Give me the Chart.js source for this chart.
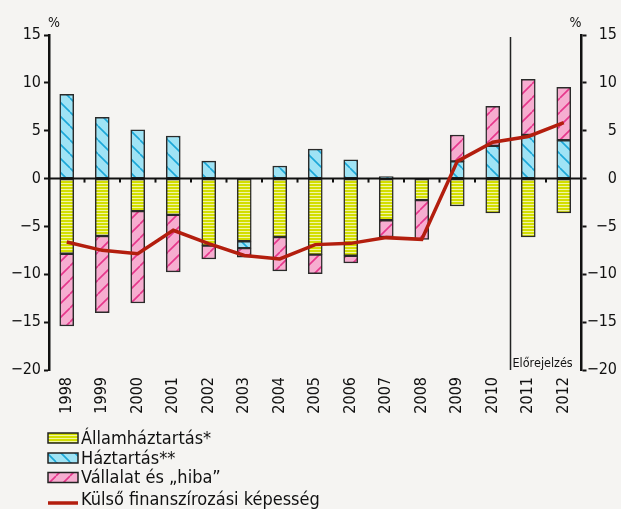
<!DOCTYPE html>
<html>
<head>
<meta charset="utf-8">
<script src="https://cdn.jsdelivr.net/npm/chart.js@4"></script>
<style>
  html, body { margin: 0; padding: 0; background: #f5f4f2; }
  #wrap { width: 621px; height: 509px; }
</style>
</head>
<body>
<div id="wrap"><canvas id="myChart" width="621" height="509"></canvas></div>
<script>
// Évek és a GDP-arányos szektorális egyenlegek (%)
const years = ['1998', '1999', '2000', '2001', '2002', '2003', '2004', '2005', '2006', '2007', '2008', '2009', '2010', '2011', '2012'];
const allamhaztartas = [-7.85, -6.0, -3.4, -3.8, -7.0, -6.55, -6.1, -7.95, -8.06, -4.35, -2.25, -2.87, -3.6, -6.1, -3.6];
const haztartas = [8.8, 6.4, 5.1, 4.45, 1.83, -0.71, 1.31, 3.07, 1.97, 0.2, null, 1.8, 3.41, 4.55, 4.0];
const vallalat = [-7.55, -8.0, -9.6, -5.95, -1.4, -0.95, -3.55, -1.98, -0.74, -1.75, -4.1, 2.75, 4.14, 5.83, 5.52];
const kulsoFinanszirozas = [-6.63, -7.5, -7.85, -5.4, -6.8, -8.03, -8.4, -6.9, -6.77, -6.17, -6.35, 1.8, 3.8, 4.4, 5.85];
const yMin = -20;
const yMax = 15;
const yStep = 5;
const elorejelzesIdx = 13; // 2011-től előrejelzés

const FONT = "'DejaVu Sans Condensed', 'DejaVu Sans', sans-serif";
const TEXT = '#111';

// Mintázatok az oszlopokhoz
function csikos(bg, fg) {
    const c = document.createElement('canvas');
    c.width = 4; c.height = 3;
    const g = c.getContext('2d');
    g.fillStyle = bg;
    g.fillRect(0, 0, 4, 3);
    g.fillStyle = fg;
    g.fillRect(0, 0, 4, 1);
    return g.createPattern(c, 'repeat');
}

function ferde(bg, fg, irany) {
    const n = 14;
    const c = document.createElement('canvas');
    c.width = n; c.height = n;
    const g = c.getContext('2d');
    g.fillStyle = bg;
    g.fillRect(0, 0, n, n);
    g.strokeStyle = fg;
    g.lineWidth = 1.6;
    g.beginPath();
    for (let k = -1; k <= 1; k++) {
        if (irany > 0) {
            // "/" irány
            g.moveTo(k * n, n);
            g.lineTo(k * n + n, 0);
        } else {
            // "\" irány
            g.moveTo(k * n, 0);
            g.lineTo(k * n + n, n);
        }
    }
    g.stroke();
    return g.createPattern(c, 'repeat');
}

const sargaMinta = csikos('#d3de00', '#f1f5a6');
const kekMinta = ferde('#9fe3f5', '#1ba7d8', -1);
const rozsaMinta = ferde('#f6add0', '#e6378c', 1);

const hatter = {
    id: 'hatter',
    beforeDraw(chart) {
        const ctx = chart.ctx;
        ctx.save();
        ctx.fillStyle = '#f5f4f2';
        ctx.fillRect(0, 0, chart.width, chart.height);
        ctx.restore();
    }
};

// Nullvonal, kategória-osztások és az előrejelzési határ
const segedvonalak = {
    id: 'segedvonalak',
    beforeDatasetDraw(chart, args) {
        if (args.index !== 3) return;
        const ctx = chart.ctx;
        const area = chart.chartArea;
        const x = chart.scales.x;
        const y0 = chart.scales.y.getPixelForValue(0);
        ctx.save();
        ctx.strokeStyle = '#111';
        ctx.lineWidth = 2;
        ctx.beginPath();
        ctx.moveTo(area.left, y0);
        ctx.lineTo(area.right, y0);
        ctx.stroke();
        for (let i = 1; i < years.length; i++) {
            if (i === elorejelzesIdx) continue;
            const xb = (x.getPixelForValue(i - 1) + x.getPixelForValue(i)) / 2;
            ctx.beginPath();
            ctx.moveTo(xb, y0);
            ctx.lineTo(xb, y0 + 4);
            ctx.stroke();
        }
        const xf = (x.getPixelForValue(elorejelzesIdx - 1) + x.getPixelForValue(elorejelzesIdx)) / 2;
        ctx.strokeStyle = '#222';
        ctx.lineWidth = 1.5;
        ctx.beginPath();
        ctx.moveTo(xf, area.top + 2);
        ctx.lineTo(xf, area.bottom);
        ctx.stroke();
        ctx.fillStyle = TEXT;
        ctx.font = "12.5px " + FONT;
        ctx.textAlign = 'left';
        ctx.textBaseline = 'alphabetic';
        ctx.fillText('Előrejelzés', xf + 2, area.bottom - 3);
        ctx.restore();
    }
};

// Jelmagyarázat és a "%" feliratok
const jelmagyarazat = {
    id: 'jelmagyarazat',
    afterDraw(chart) {
        const ctx = chart.ctx;
        const area = chart.chartArea;
        ctx.save();
        ctx.fillStyle = TEXT;
        ctx.font = "14px " + FONT;
        ctx.textAlign = 'center';
        ctx.textBaseline = 'middle';
        ctx.fillText('%', area.left + 5, 23);
        ctx.fillText('%', area.right - 6, 23);

        const sorok = [438, 458, 477.5, 499];
        const bx = 48, bw = 30, bh = 10;
        ctx.font = "18px " + FONT;
        ctx.textAlign = 'left';
        chart.data.datasets.forEach((ds, i) => {
            const yc = sorok[i];
            if (ds.type === 'line') {
                ctx.strokeStyle = ds.borderColor;
                ctx.lineWidth = 3.5;
                ctx.beginPath();
                ctx.moveTo(bx, yc + 4);
                ctx.lineTo(bx + bw, yc + 4);
                ctx.stroke();
            } else {
                ctx.fillStyle = ds.backgroundColor;
                ctx.fillRect(bx, yc - bh / 2, bw, bh);
                ctx.strokeStyle = '#222';
                ctx.lineWidth = 1.5;
                ctx.strokeRect(bx, yc - bh / 2, bw, bh);
            }
            ctx.fillStyle = TEXT;
            ctx.fillText(ds.label, bx + bw + 3, yc + 1);
        });
        ctx.restore();
    }
};

const tickFormat = v => String(v).replace('-', '\u2212');

const ctx = document.getElementById('myChart');
new Chart(ctx.getContext('2d'), {
    type: 'bar',
    data: {
        labels: years,
        datasets: [
            {
                label: 'Államháztartás*',
                data: allamhaztartas,
                backgroundColor: sargaMinta,
                borderColor: '#2a2a2a',
                borderWidth: 1.5,
                borderSkipped: false,
                barThickness: 14,
                order: 1
            },
            {
                label: 'Háztartás**',
                data: haztartas,
                backgroundColor: kekMinta,
                borderColor: '#2a2a2a',
                borderWidth: 1.5,
                borderSkipped: false,
                barThickness: 14,
                order: 1
            },
            {
                label: 'Vállalat és „hiba”',
                data: vallalat,
                backgroundColor: rozsaMinta,
                borderColor: '#2a2a2a',
                borderWidth: 1.5,
                borderSkipped: false,
                barThickness: 14,
                order: 1
            },
            {
                type: 'line',
                label: 'Külső finanszírozási képesség',
                data: kulsoFinanszirozas,
                borderColor: '#b31e0e',
                borderWidth: 3.5,
                pointRadius: 0,
                tension: 0,
                fill: false,
                stack: 'vonal',
                order: 0
            }
        ]
    },
    options: {
        responsive: false,
        animation: false,
        layout: { padding: { top: 35, bottom: 89, left: 0, right: 4 } },
        scales: {
            x: {
                stacked: true,
                offset: true,
                afterFit: s => { s.height = 50; },
                border: { display: false },
                grid: { display: false, drawTicks: false },
                ticks: {
                    minRotation: 90,
                    maxRotation: 90,
                    padding: 7,
                    color: TEXT,
                    font: { family: FONT, size: 16 }
                }
            },
            y: {
                stacked: true,
                min: yMin,
                max: yMax,
                afterFit: s => { s.width = 49; },
                border: { color: '#111', width: 2.5 },
                grid: { drawOnChartArea: false, tickLength: 5, tickColor: '#111', tickWidth: 2 },
                ticks: {
                    stepSize: yStep,
                    padding: 3,
                    color: TEXT,
                    font: { family: FONT, size: 16 },
                    callback: tickFormat
                }
            },
            y2: {
                position: 'right',
                min: yMin,
                max: yMax,
                afterFit: s => { s.width = 35.5; },
                border: { color: '#111', width: 2.5 },
                grid: { drawOnChartArea: false, tickLength: 5, tickColor: '#111', tickWidth: 2 },
                ticks: {
                    stepSize: yStep,
                    padding: 2,
                    crossAlign: 'far',
                    color: TEXT,
                    font: { family: FONT, size: 16 },
                    callback: tickFormat
                }
            }
        },
        plugins: {
            legend: { display: false },
            tooltip: { enabled: false }
        }
    },
    plugins: [hatter, segedvonalak, jelmagyarazat]
});
</script>
</body>
</html>
